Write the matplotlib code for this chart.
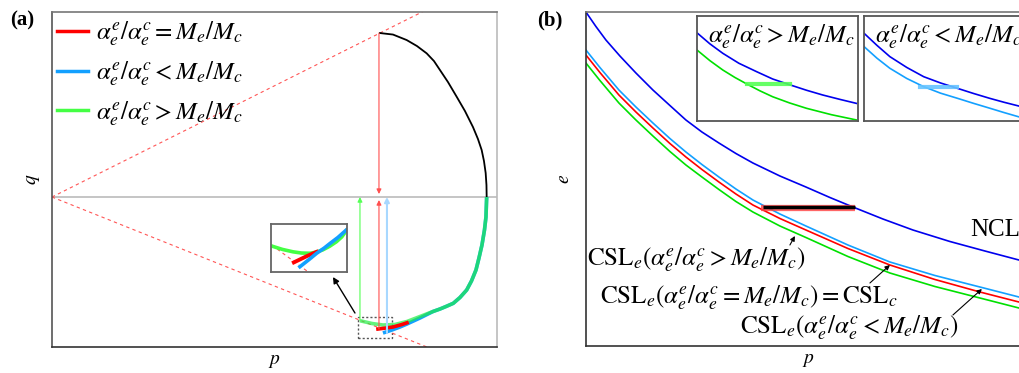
import numpy as np
import matplotlib
matplotlib.use('Agg')
import matplotlib.pyplot as plt
from matplotlib.lines import Line2D
from matplotlib.patches import Rectangle

plt.rcParams['font.family'] = 'serif'
plt.rcParams['font.serif'] = ['Liberation Serif', 'DejaVu Serif']
plt.rcParams['mathtext.fontset'] = 'stix'

# ---- panel (a) : stress path in p-q ----
Mc = 0.5
Me = 0.4
black_p = [3.28, 3.41, 3.547, 3.65, 3.747, 3.82, 3.88, 3.96, 4.047, 4.13, 4.21, 4.26, 4.297, 4.32, 4.337, 4.345, 4.347]
black_q = [1.64, 1.625, 1.57, 1.51, 1.437, 1.36, 1.27, 1.15, 1.003, 0.86, 0.70, 0.58, 0.47, 0.36, 0.24, 0.12, 0.0]
green_p = [3.08, 3.20, 3.31, 3.43, 3.55, 3.68, 3.81, 3.88, 3.94, 4.013, 4.08, 4.147, 4.195, 4.24, 4.27, 4.30, 4.325, 4.34, 4.347]
green_q = [-1.237, -1.265, -1.28, -1.275, -1.245, -1.195, -1.145, -1.12, -1.095, -1.063, -1.005, -0.93, -0.84, -0.73, -0.61, -0.48, -0.33, -0.20, 0.0]
blue_p = [3.31, 3.40, 3.48, 3.55, 3.68, 3.81, 3.88, 3.94, 4.013, 4.08, 4.147, 4.195, 4.24, 4.27, 4.30, 4.325, 4.34, 4.347]
blue_q = [-1.36, -1.33, -1.30, -1.27, -1.21, -1.145, -1.12, -1.095, -1.063, -1.005, -0.93, -0.84, -0.73, -0.61, -0.48, -0.33, -0.20, 0.0]
red_p = [3.26, 3.34, 3.41, 3.50, 3.55]
red_q = [-1.32, -1.31, -1.30, -1.275, -1.258]

# zoomed sketch inside the inset of (a), inset units 0..1
zg_x = [0.01, 0.15, 0.29, 0.40, 0.51, 0.60, 0.68, 0.77, 0.86, 0.93, 0.99]
zg_y = [0.54, 0.47, 0.42, 0.395, 0.39, 0.415, 0.46, 0.535, 0.63, 0.73, 0.86]
zr_x = [0.30, 0.47, 0.60]
zr_y = [0.20, 0.33, 0.42]
zb_x = [0.38, 0.50, 0.60, 0.70, 0.78, 0.88, 0.99]
zb_y = [0.11, 0.26, 0.39, 0.50, 0.60, 0.72, 0.875]
zd_x = [0.01, 0.49]
zd_y = [0.56, 0.0]

# ---- panel (b) : e - p ----
ncl_p = [0, 0.10, 0.20, 0.34, 0.50, 0.67, 0.84, 1.00, 1.16, 1.33, 1.50, 1.67, 1.94, 2.20, 2.44, 2.67, 2.97, 3.27, 3.64, 3.99, 4.33, 4.44]
ncl_e = [3.34, 3.195, 3.06, 2.90, 2.73, 2.56, 2.405, 2.26, 2.14, 2.03, 1.925, 1.83, 1.70, 1.59, 1.485, 1.39, 1.27, 1.16, 1.045, 0.95, 0.86, 0.83]
csl_p = [0, 0.14, 0.33, 0.50, 0.67, 0.84, 1.00, 1.16, 1.33, 1.50, 1.67, 1.94, 2.20, 2.62, 3.04, 3.49, 3.94, 4.33, 4.44]
cslb_e = [2.96, 2.785, 2.56, 2.39, 2.23, 2.075, 1.94, 1.815, 1.69, 1.57, 1.46, 1.32, 1.20, 1.01, 0.84, 0.705, 0.59, 0.49, 0.46]
cslr_e = [2.91, 2.735, 2.51, 2.34, 2.18, 2.025, 1.89, 1.765, 1.64, 1.52, 1.41, 1.275, 1.16, 0.975, 0.81, 0.665, 0.54, 0.44, 0.41]
cslg_e = [2.83, 2.655, 2.43, 2.26, 2.10, 1.945, 1.81, 1.69, 1.565, 1.445, 1.34, 1.20, 1.085, 0.895, 0.73, 0.595, 0.48, 0.38, 0.35]
path_p = [1.77, 2.69]
path_e = [1.39, 1.39]

# insets of (b), inset units 0..1
i1_ncl_x = [0, 0.08, 0.16, 0.26, 0.37, 0.47, 0.58, 0.68, 0.78, 0.89, 0.99]
i1_ncl_y = [0.84, 0.735, 0.645, 0.55, 0.47, 0.40, 0.343, 0.293, 0.248, 0.205, 0.168]
i1_csl_x = [0, 0.08, 0.16, 0.235, 0.31, 0.39, 0.47, 0.575, 0.68, 0.835, 0.99]
i1_csl_y = [0.676, 0.575, 0.486, 0.415, 0.352, 0.288, 0.231, 0.172, 0.121, 0.06, 0.01]
i1_path_x = [0.31, 0.58]
i1_path_y = [0.352, 0.352]
i2_ncl_x = [0, 0.08, 0.16, 0.265, 0.37, 0.475, 0.58, 0.68, 0.78, 0.87, 0.96, 1.0]
i2_ncl_y = [0.835, 0.72, 0.613, 0.51, 0.422, 0.362, 0.311, 0.262, 0.216, 0.178, 0.143, 0.13]
i2_csl_x = [0, 0.08, 0.16, 0.265, 0.37, 0.475, 0.58, 0.68, 0.78, 0.87, 0.96, 1.0]
i2_csl_y = [0.708, 0.598, 0.502, 0.405, 0.327, 0.265, 0.216, 0.168, 0.122, 0.08, 0.04, 0.025]
i2_path_x = [0.35, 0.58]
i2_path_y = [0.327, 0.327]

lab_eq = r'$\alpha_e^e/\alpha_e^c = M_e/M_c$'
lab_lt = r'$\alpha_e^e/\alpha_e^c < M_e/M_c$'
lab_gt = r'$\alpha_e^e/\alpha_e^c > M_e/M_c$'

RED = '#ff0000'
LBLUE = '#13a0ff'
LGREEN = '#44ff44'
NCLB = '#0000ee'
CGREEN = '#00e000'

fig = plt.figure(figsize=(10.19, 3.73), dpi=100)

# ================= (a) =================
ax = fig.add_axes([0.051, 0.0697, 0.4367, 0.898])
ax.set_xlim(0, 4.45)
ax.set_ylim(-1.50, 1.85)
ax.set_xticks([])
ax.set_yticks([])
ax.spines['left'].set_color('#555555')
ax.spines['bottom'].set_color('#333333')
ax.spines['top'].set_color('#777777')
ax.spines['right'].set_color('#bbbbbb')
for s in ax.spines.values():
    s.set_linewidth(1.2)

ax.axhline(0, color='#bbbbbb', lw=1.2)
pp = np.array([0, 4.45])
ax.plot(pp, Mc * pp, ls=(0, (3, 3)), color='#ff5555', lw=0.8)
ax.plot(pp, -Me * pp, ls=(0, (3, 3)), color='#ff5555', lw=0.8)

ax.plot(black_p, black_q, color='k', lw=1.3)
ax.plot(blue_p, blue_q, color=LBLUE, lw=2.6, solid_capstyle='butt')
ax.plot(green_p, green_q, color='#22ee44', lw=2.6, alpha=0.7, solid_capstyle='butt')
ax.plot(red_p, red_q, color=RED, lw=2.6)

# vertical unloading arrows
arr = dict(arrowstyle='-|>', lw=0.8, mutation_scale=7, shrinkA=0, shrinkB=0)
ax.annotate('', xy=(green_p[0], 0), xytext=(green_p[0], green_q[0]),
            arrowprops=dict(arr, color='#55ff55'))
ax.annotate('', xy=(black_p[0] - 0.01, 0.03), xytext=(black_p[0] - 0.01, black_q[0]),
            arrowprops=dict(arr, color='#ff5050'))
ax.annotate('', xy=(red_p[0] + 0.01, -0.03), xytext=(red_p[0] + 0.01, red_q[0]),
            arrowprops=dict(arr, color='#ff5050'))
ax.annotate('', xy=(blue_p[0] + 0.04, 0), xytext=(blue_p[0] + 0.04, blue_q[0]),
            arrowprops=dict(arrowstyle='-|>', lw=1.5, mutation_scale=7, shrinkA=0,
                            shrinkB=0, color='#a8d8ff'))

ax.add_patch(Rectangle((3.06, -1.41), 0.34, 0.21, fill=False, ec='#555555',
                       lw=1.0, ls=(0, (1.5, 1.5))))
ax.annotate('', xy=(2.81, -0.80), xytext=(3.03, -1.16),
            arrowprops=dict(arrowstyle='-|>', color='k', lw=1.0, mutation_scale=9,
                            shrinkA=0, shrinkB=0))

handles = [Line2D([], [], color=RED, lw=2.5),
           Line2D([], [], color=LBLUE, lw=2.5),
           Line2D([], [], color=LGREEN, lw=2.5)]
ax.legend(handles, [lab_eq, lab_lt, lab_gt], loc='upper left', bbox_to_anchor=(-0.005, 1.0),
          frameon=False, fontsize=18, handlelength=1.25, handletextpad=0.3,
          labelspacing=0.45, borderaxespad=0.1, borderpad=0.2)

ax.set_xlabel('$p$', fontsize=14, labelpad=4)
ax.set_ylabel('$q$', fontsize=14, labelpad=7)

# inset of (a)
axi = fig.add_axes([0.266, 0.2708, 0.0746, 0.1287])
axi.set_xlim(0, 1)
axi.set_ylim(0, 1)
axi.set_xticks([])
axi.set_yticks([])
for s in axi.spines.values():
    s.set_color('#666666')
    s.set_linewidth(1.3)
axi.plot(zd_x, zd_y, ls=(0, (3, 3)), color='#ff5555', lw=0.8)
axi.plot(zg_x, zg_y, color=LGREEN, lw=2.6)
axi.plot(zr_x, zr_y, color=RED, lw=2.8)
axi.plot(zb_x, zb_y, color=LBLUE, lw=2.6)

# ================= (b) =================
bx = fig.add_axes([0.575, 0.0724, 0.4357, 0.8954])
bx.set_xlim(0, 4.44)
bx.set_ylim(0, 3.34)
bx.set_xticks([])
bx.set_yticks([])
bx.spines['left'].set_color('#333333')
bx.spines['bottom'].set_color('#333333')
bx.spines['top'].set_color('#777777')
bx.spines['right'].set_visible(False)
for s in bx.spines.values():
    s.set_linewidth(1.2)

bx.plot(ncl_p, ncl_e, color=NCLB, lw=1.2)
bx.plot(csl_p, cslg_e, color=CGREEN, lw=1.2)
bx.plot(csl_p, cslr_e, color=RED, lw=1.2)
bx.plot(csl_p, cslb_e, color=LBLUE, lw=1.2)
bx.plot([path_p[0] - 0.02, path_p[1]], [path_e[0] - 0.005, path_e[1] - 0.005],
        color='#ff4040', lw=4.5, alpha=0.8, solid_capstyle='butt')
bx.plot(path_p, path_e, color='k', lw=2.5, solid_capstyle='butt')

bx.text(3.84, 1.16, 'NCL', fontsize=18, ha='left', va='center')
bx.text(0.01, 0.86, r'$\mathrm{CSL}_e(\alpha_e^e/\alpha_e^c > M_e/M_c)$',
        fontsize=18, ha='left', va='center')
bx.text(0.14, 0.48, r'$\mathrm{CSL}_e(\alpha_e^e/\alpha_e^c = M_e/M_c) = \mathrm{CSL}_c$',
        fontsize=18, ha='left', va='center')
bx.text(1.54, 0.18, r'$\mathrm{CSL}_e(\alpha_e^e/\alpha_e^c < M_e/M_c)$',
        fontsize=18, ha='left', va='center')

arrb = dict(arrowstyle='-|>', color='k', lw=0.8, mutation_scale=7, shrinkA=0, shrinkB=0)
bx.annotate('', xy=(2.09, 1.10), xytext=(2.04, 1.01), arrowprops=arrb)
bx.annotate('', xy=(3.04, 0.81), xytext=(2.84, 0.63), arrowprops=arrb)
bx.annotate('', xy=(3.96, 0.57), xytext=(3.67, 0.31), arrowprops=arrb)

bx.set_xlabel('$p$', fontsize=14, labelpad=4)
bx.set_ylabel('$e$', fontsize=14, labelpad=9)

# insets of (b)
for left, nx, ny, cx, cy, hx, hy, col, hcol, lab in [
        (0.684, i1_ncl_x, i1_ncl_y, i1_csl_x, i1_csl_y, i1_path_x, i1_path_y, CGREEN, '#55ff55', lab_gt),
        (0.848, i2_ncl_x, i2_ncl_y, i2_csl_x, i2_csl_y, i2_path_x, i2_path_y, LBLUE, '#66c4ff', lab_lt)]:
    a = fig.add_axes([left, 0.6756, 0.158, 0.2815])
    a.set_xlim(0, 1)
    a.set_ylim(0, 1)
    a.set_xticks([])
    a.set_yticks([])
    for s in a.spines.values():
        s.set_color('#555555')
        s.set_linewidth(1.3)
    a.plot(nx, ny, color=NCLB, lw=1.2)
    a.plot(cx, cy, color=col, lw=1.2)
    a.plot(hx, hy, color=hcol, lw=3, alpha=0.9)
    a.text(0.07, 0.80, lab, fontsize=18, ha='left', va='center', clip_on=True)

fig.text(0.010, 0.945, '(a)', fontsize=15, fontweight='bold', ha='left', va='center')
fig.text(0.527, 0.945, '(b)', fontsize=15, fontweight='bold', ha='left', va='center')

plt.savefig('out.png', dpi=100)
plt.close()
